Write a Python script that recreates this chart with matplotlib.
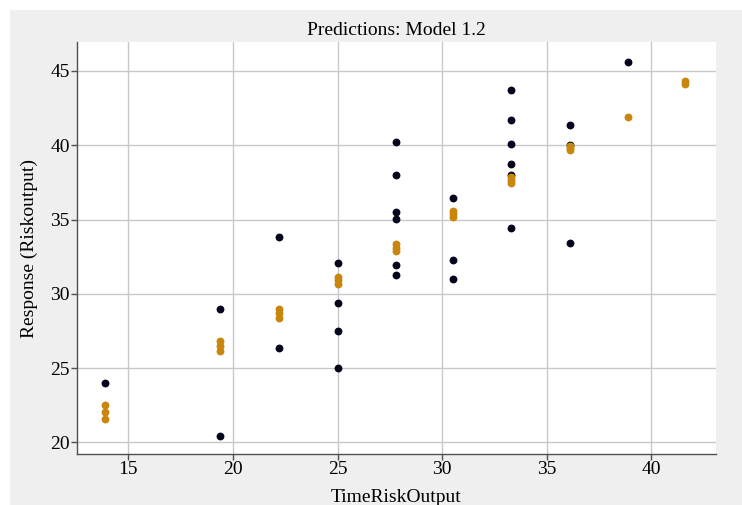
import matplotlib
matplotlib.use("Agg")
import matplotlib.pyplot as plt
from matplotlib.patches import Rectangle

# observed responses
obs_x = [13.9,
         19.4, 19.4,
         22.2, 22.2,
         25.0, 25.0, 25.0, 25.0,
         27.8, 27.8, 27.8, 27.8, 27.8, 27.8,
         30.5, 30.5, 30.5,
         33.3, 33.3, 33.3, 33.3, 33.3, 33.3,
         36.1, 36.1, 36.1,
         38.9]
obs_y = [24.0,
         29.0, 20.45,
         33.85, 26.35,
         32.1, 29.4, 27.5, 25.0,
         40.25, 38.0, 35.5, 35.05, 31.95, 31.3,
         36.45, 32.25, 31.0,
         43.75, 41.7, 40.1, 38.75, 38.0, 34.45,
         41.35, 40.0, 33.45,
         45.6]

# model 1.2 predictions
pred_x = [13.9, 13.9, 13.9,
          19.4, 19.4, 19.4,
          22.2, 22.2, 22.2,
          25.0, 25.0, 25.0,
          27.8, 27.8, 27.8,
          30.5, 30.5, 30.5,
          33.3, 33.3, 33.3,
          36.1, 36.1, 36.1,
          38.9,
          41.6, 41.6]
pred_y = [22.5, 22.05, 21.6,
          26.8, 26.5, 26.15,
          29.0, 28.7, 28.4,
          31.15, 30.9, 30.65,
          33.35, 33.1, 32.9,
          35.6, 35.4, 35.2,
          37.85, 37.65, 37.45,
          39.95, 39.8, 39.65,
          41.9,
          44.3, 44.1]

x_ticks = [15, 20, 25, 30, 35, 40]
y_ticks = [20, 25, 30, 35, 40, 45]

plt.rcParams['font.family'] = ['Liberation Serif', 'DejaVu Serif']

fig = plt.figure(figsize=(7.42, 5.05), dpi=100, facecolor='white')
# grey panel behind the plot
fig.patches.append(Rectangle((10 / 742, 0), 1, 1 - 10 / 505, transform=fig.transFigure,
                             facecolor='#efefef', edgecolor='none', zorder=-10))

ax = fig.add_axes([0.1034, 0.101, 0.965 - 0.1034, 0.9168 - 0.101])
ax.set_facecolor('white')

ax.scatter(obs_x, obs_y, s=32, color='#05051e', zorder=3, linewidths=0)
ax.scatter(pred_x, pred_y, s=32, color='#c8860c', zorder=4, linewidths=0)

ax.set_xlim(12.53, 43.1)
ax.set_ylim(19.22, 46.95)
ax.set_xticks(x_ticks)
ax.set_yticks(y_ticks)

ax.grid(True, color='#c8c8c8', linewidth=1.0)
ax.set_axisbelow(True)
for side in ['top', 'right']:
    ax.spines[side].set_visible(False)
for side in ['left', 'bottom']:
    ax.spines[side].set_color('#505050')
    ax.spines[side].set_linewidth(1.0)
ax.tick_params(direction='out', length=4, width=1, color='#505050',
               labelsize=14, pad=1)

ax.set_title('Predictions: Model 1.2', fontsize=14, pad=5)
ax.set_xlabel('TimeRiskOutput', fontsize=14, labelpad=8)
ax.set_ylabel('Response (Riskoutput)', fontsize=14, labelpad=9)

fig.savefig('out.png', dpi=100, facecolor=fig.get_facecolor())
